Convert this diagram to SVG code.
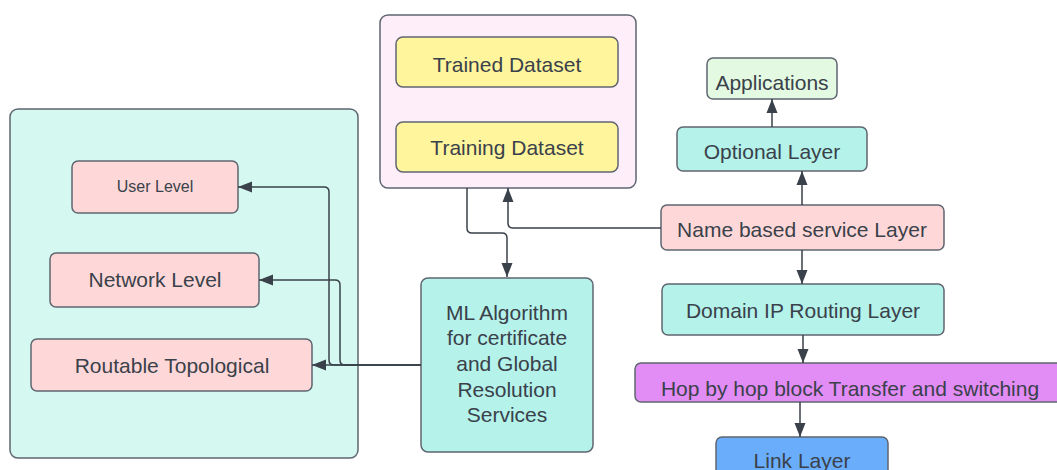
<svg xmlns="http://www.w3.org/2000/svg" width="1057" height="470" viewBox="0 0 1057 470">
<style>
.n{stroke:#5f6670;stroke-width:1.5}
.t{font-family:"Liberation Sans",Arial,sans-serif;font-size:21px;fill:#3a414a;text-anchor:middle;dominant-baseline:central}
.c{fill:none;stroke:#3a414a;stroke-width:1.5}
</style>
<defs>
<marker id="a" markerUnits="userSpaceOnUse" markerWidth="15" markerHeight="12" refX="14" refY="6" orient="auto">
<path d="M0,0.5 L14,6 L0,11.5 Z" fill="#3a414a"/>
</marker>
</defs>
<rect width="1057" height="470" fill="#ffffff"/>
<g id="left-container"><rect class="n" x="10" y="109" width="348" height="349" rx="8" fill="#d5f8f1"/></g>
<g id="pink-container"><rect class="n" x="380" y="15" width="256" height="173" rx="8" fill="#fdeef9"/></g>
<g id="user-level"><rect class="n" x="72" y="161" width="166" height="52" rx="6" fill="#fed8d8"/><text class="t" x="155" y="186" style="font-size:16px">User Level</text></g>
<g id="network-level"><rect class="n" x="50" y="253" width="209" height="54" rx="6" fill="#fed8d8"/><text class="t" x="155" y="279">Network Level</text></g>
<g id="routable"><rect class="n" x="31" y="339" width="281" height="52" rx="6" fill="#fed8d8"/><text class="t" x="172" y="365">Routable Topological</text></g>
<g id="trained"><rect class="n" x="396" y="37" width="222" height="50" rx="7" fill="#fff59d"/><text class="t" x="507" y="64">Trained Dataset</text></g>
<g id="training"><rect class="n" x="396" y="122" width="222" height="50" rx="7" fill="#fff59d"/><text class="t" x="507" y="147">Training Dataset</text></g>
<g id="ml"><rect class="n" x="421" y="278" width="172" height="174" rx="7" fill="#b4f2ea"/>
<text class="t" x="507" y="312">ML Algorithm</text><text class="t" x="507" y="337">for certificate</text><text class="t" x="507" y="363">and Global</text><text class="t" x="507" y="389">Resolution</text><text class="t" x="507" y="414">Services</text></g>
<g id="applications"><rect class="n" x="707" y="58" width="130" height="41" rx="6" fill="#e3f9e1"/><text class="t" x="772" y="82">Applications</text></g>
<g id="optional"><rect class="n" x="677" y="127" width="190" height="44" rx="6" fill="#b4f2ea"/><text class="t" x="772" y="151">Optional Layer</text></g>
<g id="name"><rect class="n" x="661" y="205" width="283" height="45" rx="6" fill="#fed8d8"/><text class="t" x="802" y="229">Name based service Layer</text></g>
<g id="domain"><rect class="n" x="662" y="284" width="282" height="51" rx="6" fill="#b4f2ea"/><text class="t" x="803" y="310">Domain IP Routing Layer</text></g>
<g id="hop"><rect class="n" x="635" y="363" width="432" height="39" rx="6" fill="#e28cf6"/><text class="t" x="850" y="388">Hop by hop block Transfer and switching</text></g>
<g id="link"><rect class="n" x="716" y="437" width="172" height="45" rx="6" fill="#6aaefb"/><text class="t" x="802" y="460">Link Layer</text></g>
<g id="connectors">
<path class="c" d="M421,365 H312" marker-end="url(#a)"/>
<path class="c" d="M421,365 H334 Q329,365 329,360 V192 Q329,187 324,187 H238" marker-end="url(#a)"/>
<path class="c" d="M421,365 H345 Q340,365 340,360 V285 Q340,280 335,280 H259" marker-end="url(#a)"/>
<path class="c" d="M467,188 V228 Q467,233 472,233 H502 Q507,233 507,238 V277" marker-end="url(#a)"/>
<path class="c" d="M661,228 H513 Q508,228 508,223 V188" marker-end="url(#a)"/>
<path class="c" d="M802,205 V171" marker-end="url(#a)"/>
<path class="c" d="M772,127 V99" marker-end="url(#a)"/>
<path class="c" d="M802,250 V284" marker-end="url(#a)"/>
<path class="c" d="M803,335 V363" marker-end="url(#a)"/>
<path class="c" d="M800,402 V437" marker-end="url(#a)"/>
</g>
</svg>
